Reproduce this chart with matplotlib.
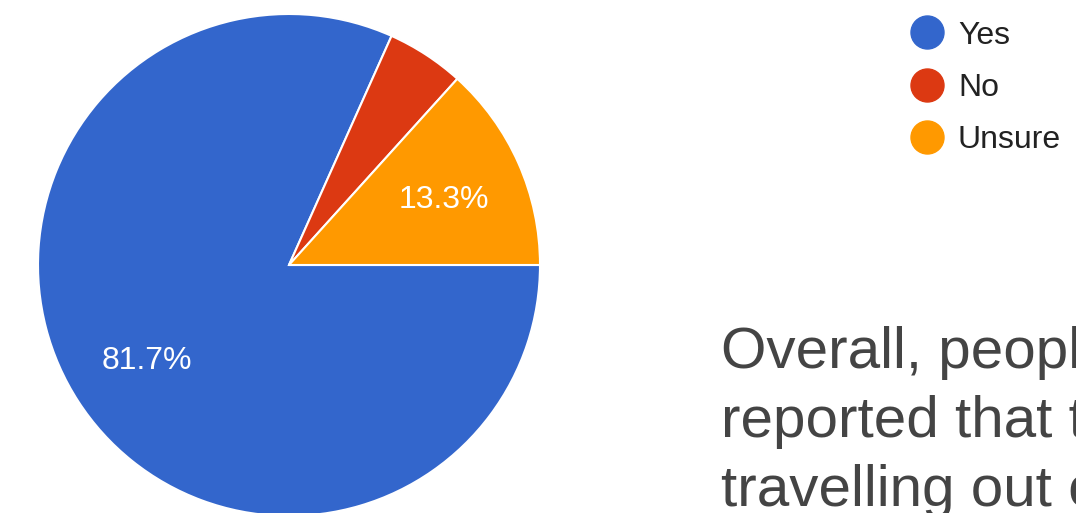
"""Pie chart of survey answers with legend and caption."""
import matplotlib.pyplot as plt

labels = ["Yes", "No", "Unsure"]
shares = [81.7, 5.0, 13.3]
colors = ["#3366CC", "#DC3912", "#FF9900"]
caption = ["Overall, people", "reported that they", "travelling out of"]

W, H = 1076, 513
fig = plt.figure(figsize=(W / 100, H / 100), dpi=100)
ax = fig.add_axes([0, 0, 1, 1])
ax.axis("off")


def pct_label(p):
    return f"{p:.1f}%" if p >= 10 else ""


wedges, _, autotexts = ax.pie(
    shares, colors=colors, startangle=0, counterclock=False,
    center=(289, H - 265), radius=251, autopct=pct_label, pctdistance=0.675,
    wedgeprops=dict(edgecolor="white", linewidth=1.5),
    textprops=dict(color="white", fontsize=23, family="Liberation Sans",
                   va="center_baseline"),
)
ax.set_xlim(0, W)
ax.set_ylim(0, H)
ax.set_aspect("equal")

# legend
for i, (lab, c) in enumerate(zip(labels, colors)):
    y = H - (32 + i * 52.5)
    ax.scatter([927], [y], s=(33 * 0.72) ** 2, color=c, zorder=3,
               clip_on=False)
    ax.text(958, y, lab, fontsize=23, color="#222222", va="center_baseline",
            ha="left", family="Liberation Sans")

# caption text on the right (runs off the figure edge like the original)
for i, line in enumerate(caption):
    ax.text(721, H - (368 + i * 69), line, fontsize=42, color="#444444",
            ha="left", va="baseline", family="Liberation Sans",
            clip_on=False)

fig.savefig("out.png", dpi=100)
